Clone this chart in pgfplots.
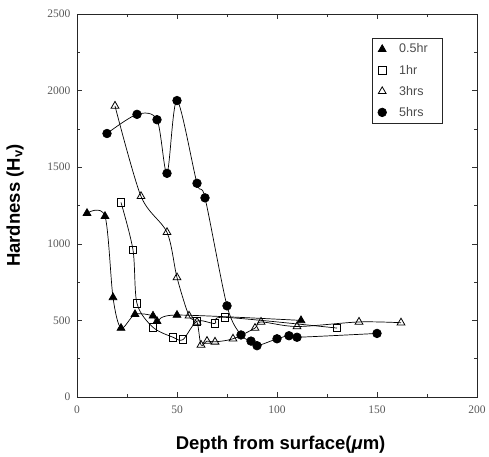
\documentclass[border=0pt]{standalone}
\usepackage{pgfplots}
\pgfplotsset{compat=1.18}
\usepackage{fontspec}
\setmainfont{Liberation Serif}
\setsansfont{Liberation Sans}
\begin{document}
\begin{tikzpicture}
\useasboundingbox (-77pt,-59pt) rectangle (412pt,397pt);
\begin{axis}[
  at={(0pt,0pt)}, anchor=south west,
  width=400pt, height=383pt, scale only axis,
  xmin=0, xmax=200, ymin=0, ymax=2500,
  xtick={0,50,100,150,200},
  ytick={0,500,1000,1500,2000,2500},
  minor tick num=1,
  tick align=inside,
  major tick length=5pt, minor tick length=3pt,
  axis line style={line width=0.7pt, black!85},
  tick style={black!80, line width=0.6pt},
  /pgf/number format/assume math mode=true,
  /pgf/number format/1000 sep={},
  ticklabel style={font=\fontsize{11.5}{12}\selectfont, text=black!65},
  xticklabel style={yshift=-5pt},
  yticklabel style={xshift=-3pt},
  xlabel={\fontsize{18.5}{20}\selectfont\sffamily\bfseries Depth from surface(\textit{μ}m)},
  ylabel={\fontsize{18.5}{20}\selectfont\sffamily\bfseries Hardness (H\textsubscript{v})},
  xlabel style={at={(axis description cs:0.509,-0.138)}, anchor=base},
  ylabel style={at={(axis description cs:-0.155,0.5)}, anchor=center, rotate=0},
  legend style={at={(axis description cs:0.915,0.937)}, anchor=north east,
    draw=black!85, line width=0.6pt, inner xsep=2pt, inner ysep=4.5pt,
    font=\fontsize{12.5}{13}\selectfont\sffamily, text=black!70,
    row sep=8.5pt, nodes={inner sep=1pt}},
  legend cell align=left,
  legend image code/.code={%
    \path (0cm,0cm) (0.8cm,0cm);
    \draw[#1, only marks] plot coordinates {(0.25cm,0cm)};},
  every axis plot/.append style={black, line width=0.7pt, smooth, tension=0.5},
]
\addplot[mark=triangle*, mark size=4.5pt, mark options={fill=black}] coordinates {
 (5,1200) (14,1180) (18,650) (22,450) (29,540) (38,530) (40,495) (50,535) (112,500)};
\addlegendentry{0.5hr\hspace*{12pt}}
\addplot[mark=square, mark size=3.8pt, mark options={fill=white, line width=0.8pt}] coordinates {
 (22,1270) (28,960) (30,610) (38,455) (48,390) (53,375) (60,495) (69,480) (74,520) (130,450)};
\addlegendentry{1hr}
\addplot[mark=triangle, mark size=4.5pt, mark options={fill=white, line width=0.8pt}] coordinates {
 (19,1900) (32,1310) (45,1075) (50,780) (56,530) (60,490) (62,340) (65,365) (69,360) (78,380) (89,450) (92,490) (110,460) (141,490) (162,485)};
\addlegendentry{3hrs}
\addplot[mark=*, mark size=4.3pt, mark options={fill=black}] coordinates {
 (15,1720) (30,1845) (40,1810) (45,1460) (50,1935) (60,1395) (64,1300) (75,595) (82,405) (87,365) (90,335) (100,380) (106,400) (110,390) (150,415)};
\addlegendentry{5hrs}
\end{axis}
\end{tikzpicture}
\end{document}
